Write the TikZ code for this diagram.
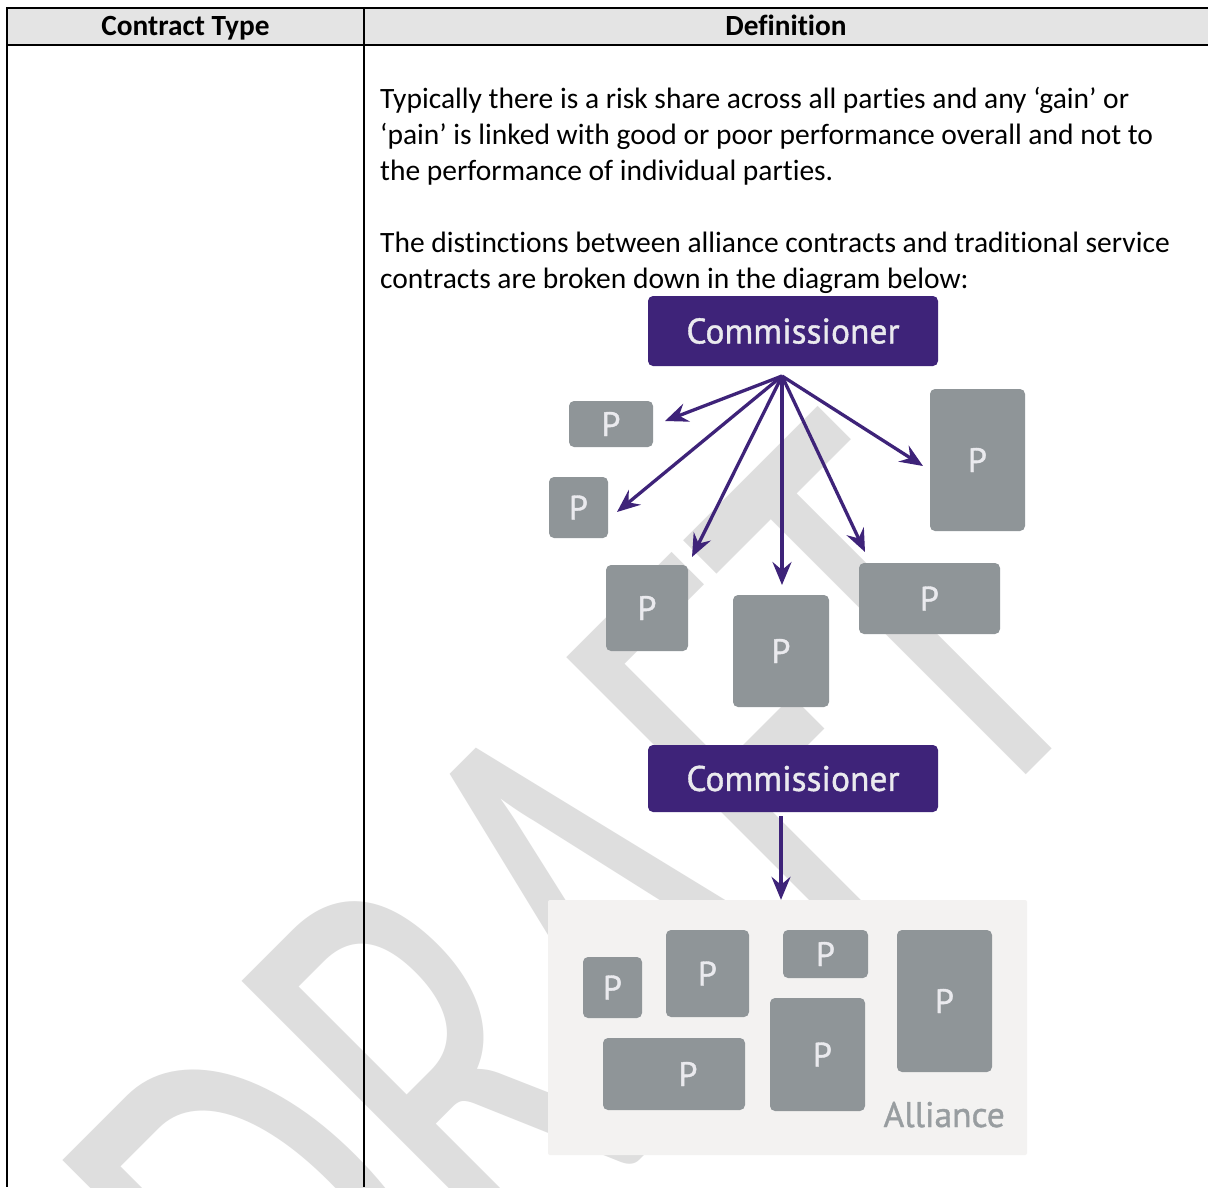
\documentclass[tikz,border=0pt]{standalone}
\usepackage{fontspec}
\setmainfont{Carlito}[Ligatures=NoCommon]
\newfontfamily\wmfont{Carlito}[Ligatures=NoCommon]
\newfontfamily\dgfont{PT Sans}[BoldFont={PT Sans},BoldFeatures={FakeBold=1.1}]
\usetikzlibrary{arrows.meta}
\definecolor{wmgray}{RGB}{222,222,222}
\definecolor{hdrgray}{RGB}{228,228,228}
\definecolor{purp}{RGB}{62,35,121}
\definecolor{ptext}{RGB}{234,234,238}
\definecolor{pbox}{RGB}{143,149,152}
\definecolor{allibg}{RGB}{243,242,241}
\definecolor{allitext}{RGB}{152,157,160}
\begin{document}
\begin{tikzpicture}[x=1pt,y=-1pt,
  tline/.style={line width=2.2pt,black},
  hdrtext/.style={font=\fontsize{29.3}{35}\selectfont\bfseries,anchor=base,inner sep=0},
  body/.style={font=\fontsize{29.5}{36}\selectfont,anchor=base west,inner sep=0},
  comm/.style={rectangle,rounded corners=5pt,fill=purp,text=ptext,minimum width=290pt,
    font=\dgfont\bfseries\fontsize{35.5}{40}\selectfont,inner sep=0},
  pb/.style={rectangle,rounded corners=5pt,fill=pbox,text=ptext,
    font=\dgfont\bfseries\fontsize{34}{38}\selectfont,inner sep=0},
  arr/.style={line width=3.3pt,draw=purp,-{Stealth[length=23pt,width=19pt,inset=8pt]}},
  wm/.style={text=wmgray,inner sep=0,font=\wmfont\fontsize{410}{410}\selectfont}
]
\useasboundingbox (0,0) rectangle (1208,1187);
\fill[white] (0,0) rectangle (1208,1187);
% watermark
\node[wm,anchor=base west,rotate=45,yscale=1.55] (wmark) at (331.5,1469) {DRAFT};
% table
\fill[hdrgray] (8,9) rectangle (1208,44);
\draw[tline] (1208,8) -- (7,8) -- (7,1187);
\draw[tline] (7,45) -- (1208,45);
\draw[tline] (364,8) -- (364,1187);
\node[hdrtext] (h1) at (185.5,35) {Contract Type};
\node[hdrtext] (h2) at (786,35) {Definition};
% body text
\node[body] (l1) at (380,108) {Typically there is a risk share across all parties and any ‘gain’ or};
\node[body] (l2) at (380,144) {‘pain’ is linked with good or poor performance overall and not to};
\node[body] (l3) at (380,180) {the performance of individual parties.};
\node[body] (l4) at (380,252) {The distinctions between alliance contracts and traditional service};
\node[body] (l5) at (380,288) {contracts are broken down in the diagram below:};
% upper diagram
\node[comm,minimum height=70pt] (c1) at (793,331) {Commissioner};
\node[pb,minimum width=84pt,minimum height=46pt] (p1) at (611,424) {P};
\node[pb,minimum width=59pt,minimum height=61pt] (p2) at (578.5,507.5) {P};
\node[pb,minimum width=82pt,minimum height=86pt] (p3) at (647,608) {P};
\node[pb,minimum width=96pt,minimum height=112pt] (p4) at (781,651) {P};
\node[pb,minimum width=141pt,minimum height=71pt] (p5) at (929.5,598.5) {P};
\node[pb,minimum width=95pt,minimum height=142pt] (p6) at (977.5,460) {P};
\coordinate (hub) at (782,376);
\coordinate (t1) at (665,421);
\coordinate (t2) at (617,512);
\coordinate (t3) at (692,557);
\coordinate (t4) at (782,585);
\coordinate (t5) at (865,552);
\coordinate (t6) at (923,466);
\foreach \t in {t1,t2,t3,t4,t5,t6} \draw[arr] (hub) -- (\t);
% lower diagram
\node[comm,minimum height=67pt] (c2) at (793,778.5) {Commissioner};
\node[rectangle,rounded corners=2pt,fill=allibg,minimum width=479pt,minimum height=255pt,inner sep=0] (al) at (787.5,1027.5) {};
\node[pb,minimum width=59pt,minimum height=61pt] (a1) at (612.5,987.5) {P};
\node[pb,minimum width=83pt,minimum height=87pt] (a2) at (707.5,973.5) {P};
\node[pb,minimum width=85pt,minimum height=48pt] (a3) at (825.5,954) {P};
\node[pb,minimum width=95pt,minimum height=142pt] (a4) at (944.5,1001) {P};
\node[pb,minimum width=142pt,minimum height=72pt] (a5) at (674,1074) {\hspace*{28pt}P};
\node[pb,minimum width=95pt,minimum height=113pt] (a6) at (817.5,1054.5) {\hspace*{10pt}P};
\node[anchor=base east,inner sep=0,text=allitext,font=\dgfont\bfseries\fontsize{35.5}{40}\selectfont] (altext) at (1005,1127) {Alliance};
\draw[arr] ([xshift=-12pt,yshift=-4pt]c2.south) -- ([xshift=-6.5pt]al.north);
\end{tikzpicture}
\end{document}
